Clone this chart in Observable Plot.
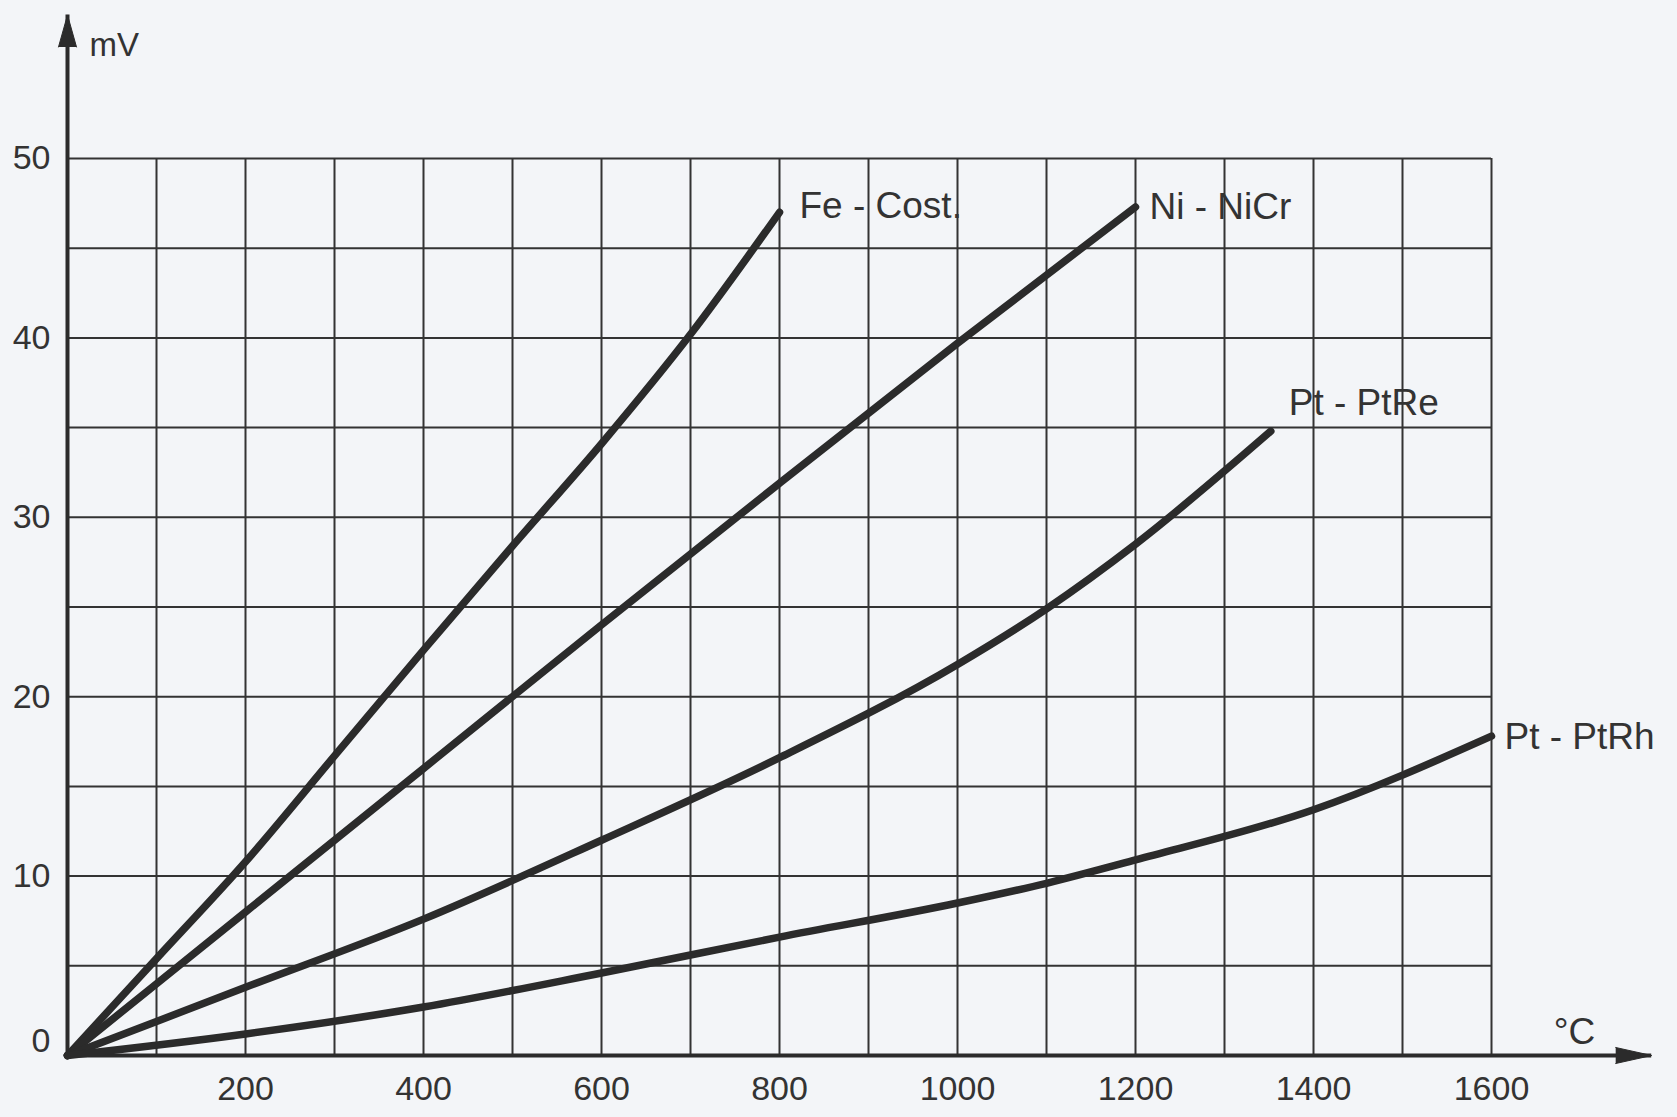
<!DOCTYPE html>
<html>
<head>
<meta charset="utf-8">
<script src="https://cdn.jsdelivr.net/npm/d3@7"></script>
<script src="https://cdn.jsdelivr.net/npm/@observablehq/plot@0.6"></script>
<style>
  html, body { margin: 0; padding: 0; background: #f3f5f8; }
  #chart { width: 1677px; height: 1117px; overflow: hidden; }
</style>
</head>
<body>
<div id="chart"></div>
<script>
// ---- data ----
const seriesNames = ["Fe - Cost.", "Ni - NiCr", "Pt - PtRe", "Pt - PtRh"];

const feTemp = [0, 100, 200, 300, 400, 500, 600, 700, 800];
const feMv   = [0, 5.4, 10.8, 16.7, 22.6, 28.4, 34.1, 40.2, 47.0];

const niTemp = [0, 200, 400, 600, 800, 1000, 1200];
const niMv   = [0, 8.0, 16.0, 24.0, 31.9, 39.7, 47.3];

const reTemp = [0, 200, 400, 600, 800, 1000, 1100, 1200, 1352];
const reMv   = [0, 3.8, 7.6, 12.0, 16.6, 21.8, 24.9, 28.5, 34.8];

const rhTemp = [0, 200, 400, 600, 800, 1000, 1100, 1200, 1400, 1600];
const rhMv   = [0, 1.2, 2.7, 4.6, 6.6, 8.5, 9.6, 10.9, 13.7, 17.8];

const xTickLabels = [200, 400, 600, 800, 1000, 1200, 1400, 1600];
const yTickLabels = [0, 10, 20, 30, 40, 50];
const xGrid = [100, 200, 300, 400, 500, 600, 700, 800, 900, 1000, 1100, 1200, 1300, 1400, 1500, 1600];
const yGrid = [5, 10, 15, 20, 25, 30, 35, 40, 45, 50];
const xAxisEnd = 1780;   // °C, where the x-axis arrow ends
const yAxisEnd = 58;     // mV, where the y-axis arrow ends
const xUnit = "°C";
const yUnit = "mV";

// ---- build table ----
const temps = [feTemp, niTemp, reTemp, rhTemp];
const mvs = [feMv, niMv, reMv, rhMv];
const rows = [];
seriesNames.forEach((s, i) => temps[i].forEach((t, j) => rows.push({series: s, t, mv: mvs[i][j]})));
const ends = seriesNames.map((s, i) => ({series: s, t: temps[i][temps[i].length - 1], mv: mvs[i][mvs[i].length - 1]}));

const ink = "#2b2b2b";
const labelOffsets = [[20, -6], [14, 0], [18, -28], [13, 1]];

const chart = Plot.plot({
  width: 1677,
  height: 1117,
  marginLeft: 67,
  marginRight: 186,
  marginTop: 158,
  marginBottom: 62,
  style: {background: "transparent", fontFamily: "'Liberation Sans', Arial, sans-serif", color: "#333"},
  x: {domain: [0, 1600]},
  y: {domain: [0, 50]},
  marks: [
    Plot.ruleX(xGrid, {y1: 0, y2: 50, stroke: "#333", strokeWidth: 2}),
    Plot.ruleY(yGrid, {x1: 0, x2: 1600, stroke: "#333", strokeWidth: 2}),
    Plot.ruleY([0], {x1: 0, x2: xAxisEnd, stroke: ink, strokeWidth: 4}),
    Plot.ruleX([0], {y1: 0, y2: yAxisEnd, stroke: ink, strokeWidth: 4}),
    Plot.vector([{x: 0, y: yAxisEnd}], {x: "x", y: "y", length: 32, r: 9, rotate: 0, anchor: "end", shape: "spike", fill: ink, stroke: ink, strokeWidth: 1}),
    Plot.vector([{x: xAxisEnd, y: 0}], {x: "x", y: "y", length: 36, r: 8, rotate: 90, anchor: "end", shape: "spike", fill: ink, stroke: ink, strokeWidth: 1}),
    Plot.line(rows, {x: "t", y: "mv", z: "series", curve: "monotone-x", stroke: ink, strokeWidth: 7.5, strokeLinecap: "round", strokeLinejoin: "round"}),
    ...ends.map((d, i) => Plot.text([d], {x: "t", y: "mv", text: "series", textAnchor: "start", dx: labelOffsets[i][0], dy: labelOffsets[i][1], fontSize: 37, fill: "#333"})),
    Plot.text([{x: 0, y: yAxisEnd}], {x: "x", y: "y", text: () => yUnit, textAnchor: "start", dx: 22, dy: 30, fontSize: 33, letterSpacing: 3, fill: "#333"}),
    Plot.text([{x: xAxisEnd, y: 0}], {x: "x", y: "y", text: () => xUnit, textAnchor: "start", dx: -98, dy: -23, fontSize: 37, fill: "#333"}),
    Plot.axisX(xTickLabels, {tickSize: 0, tickPadding: 20, fontSize: 34, label: null, fill: "#333", tickFormat: (d) => String(d)}),
    Plot.axisY(yTickLabels.filter((d) => d !== 0), {tickSize: 0, tickPadding: 17, fontSize: 34, label: null, fill: "#333", tickFormat: (d) => String(d)}),
    Plot.axisY([0], {tickSize: 0, tickPadding: 17, dy: -14, fontSize: 34, label: null, fill: "#333", tickFormat: (d) => String(d)})
  ]
});
document.getElementById("chart").appendChild(chart);
</script>
</body>
</html>
